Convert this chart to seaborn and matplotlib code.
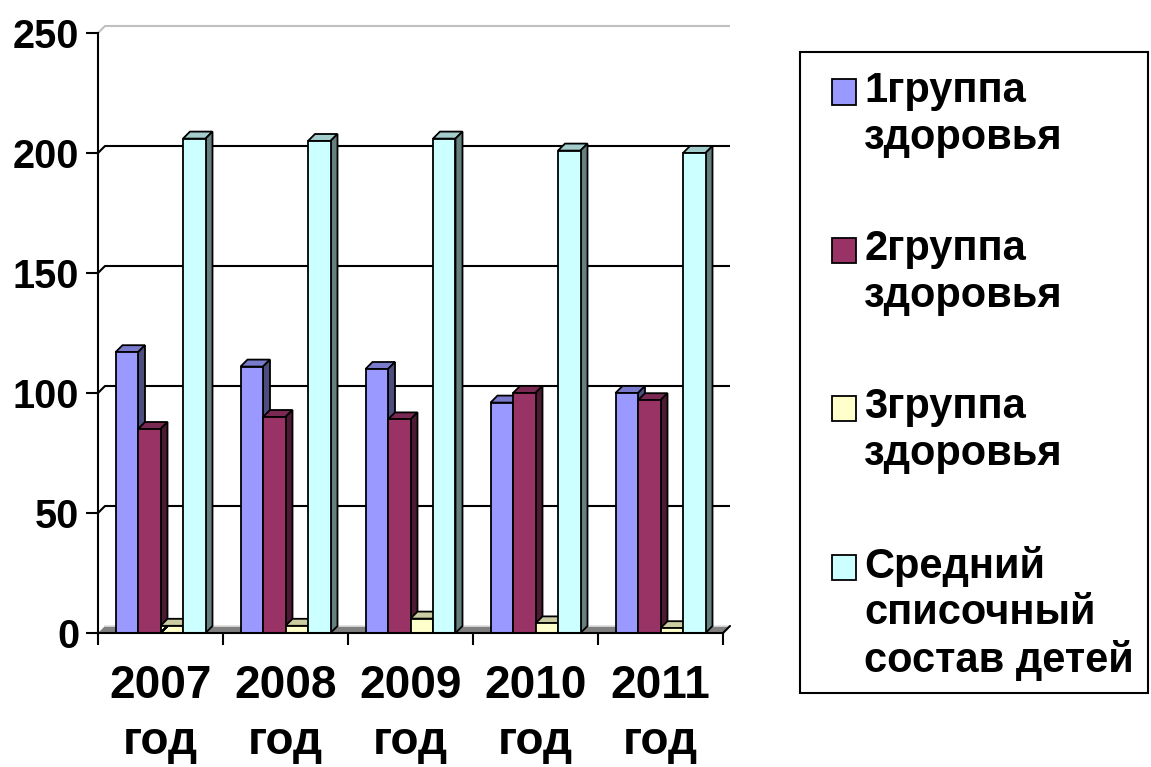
import numpy as np
import pandas as pd
import matplotlib
matplotlib.use("Agg")
import matplotlib.pyplot as plt
from matplotlib.patches import Polygon, Rectangle
import seaborn as sns

# --- donnees ---
years = ["2007\nгод", "2008\nгод", "2009\nгод", "2010\nгод", "2011\nгод"]
series = ["1группа\nздоровья", "2группа\nздоровья", "3группа\nздоровья",
          "Средний\nсписочный\nсостав детей"]
group1 = [117, 111, 110, 96, 100]
group2 = [85, 90, 89, 100, 97]
group3 = [3, 3, 6, 4, 2]
average = [206, 205, 206, 201, 200]
yticks = [0, 50, 100, 150, 200, 250]
front_colors = ["#9999FF", "#993366", "#FFFFCC", "#CCFFFF"]

df = pd.DataFrame({
    "year": years * 4,
    "series": np.repeat(series, len(years)),
    "value": group1 + group2 + group3 + average,
})

sns.set_theme(style="ticks")
plt.rcParams["font.family"] = ["Liberation Sans", "DejaVu Sans"]
plt.rcParams["font.weight"] = "bold"
for k in ["text.color", "axes.labelcolor", "xtick.color", "ytick.color", "axes.edgecolor"]:
    plt.rcParams[k] = "black"

W, H = 1151, 767
fig = plt.figure(figsize=(W / 100, H / 100), dpi=100)
ax = fig.add_axes([98 / W, 134 / H, 625 / W, 600 / H])

sns.barplot(data=df, x="year", y="value", hue="series", palette=front_colors,
            width=0.72, saturation=1, edgecolor="black", linewidth=1.3, ax=ax)

leg_old = ax.get_legend()
handles = leg_old.legend_handles
labels = [t.get_text() for t in leg_old.get_texts()]
leg_old.remove()

# barres dessinees par seaborn, triees de gauche a droite
bars = sorted(ax.patches, key=lambda p: p.get_x())

ax.set_xlim(-0.5, 4.5)
ax.set_ylim(0, 250)

# profondeur 3D (~7 px)
dx = 7 / 125
dy = 7 / 2.4

# mur du fond : lignes de grille + sol
for v in yticks[1:]:
    col = "#C0C0C0" if v == 250 else "black"
    ax.plot([-0.5, -0.5 + dx, 4.5 + dx], [v, v + dy, v + dy], color=col,
            lw=1.5, zorder=0.5, clip_on=False, solid_capstyle="butt")
ax.add_patch(Polygon([(-0.5, 0), (4.5, 0), (4.5 + dx, dy), (-0.5 + dx, dy)],
                     closed=True, fc="#808080", ec="none", zorder=0.6, clip_on=False))
ax.plot([-0.5 + dx, 4.5 + dx], [dy, dy], color="#E0E0E0", lw=1.2, zorder=0.7, clip_on=False)
ax.plot([4.5, 4.5 + dx], [0, dy], color="black", lw=1.5, zorder=0.7, clip_on=False)

# faces laterales et superieures des barres
for i, p in enumerate(bars):
    x0 = p.get_x()
    x1 = x0 + p.get_width()
    h = p.get_height()
    fc = np.array(p.get_facecolor()[:3])
    z = 2 + i * 0.01
    ax.add_patch(Polygon([(x0, h), (x1, h), (x1 + dx, h + dy), (x0 + dx, h + dy)],
                         closed=True, fc=fc * 0.8, ec="black", lw=1.3, zorder=z, clip_on=False))
    ax.add_patch(Polygon([(x1, 0), (x1 + dx, dy), (x1 + dx, h + dy), (x1, h)],
                         closed=True, fc=fc * 0.5, ec="black", lw=1.3, zorder=z, clip_on=False))
    p.set_zorder(z + 0.005)

# axes
ax.grid(False)
ax.set_xlabel("")
ax.set_ylabel("")
for s in ["top", "right"]:
    ax.spines[s].set_visible(False)
for s in ["left", "bottom"]:
    ax.spines[s].set_linewidth(1.5)
    ax.spines[s].set_zorder(3)

ax.set_yticks(yticks)
ax.set_yticklabels([str(v) for v in yticks], fontsize=28.5, fontweight="bold")
ax.tick_params(axis="y", length=8.6, width=1.5, pad=5, left=True)

ax.set_xticks(range(len(years)))
ax.set_xticklabels(years, fontsize=33, fontweight="bold", linespacing=1.36)
ax.set_xticks(np.arange(-0.5, 5, 1), minor=True)
ax.tick_params(axis="x", which="major", length=0, pad=22)
ax.tick_params(axis="x", which="minor", length=8.6, width=1.5, bottom=True)

# legende : cadre + entrees
frame = Rectangle((800 / W, 1 - 693 / H), 348 / W, 641 / H, transform=fig.transFigure,
                  fc="white", ec="black", lw=1.5, zorder=4)
fig.patches.append(frame)

fs = 30
leg = fig.legend(handles, labels, loc="upper left", bbox_to_anchor=(832 / W, 1 - 71 / H),
                 frameon=False, prop={"size": fs, "weight": "bold"},
                 handlelength=0.576, handleheight=0.55, handletextpad=0.2,
                 labelspacing=1.72, borderpad=0, borderaxespad=0)
leg.set_zorder(5)
for t in leg.get_texts():
    t.set_linespacing(1.21)
line_pt = 46 / 100 * 72
for hdl, lab in zip(leg.legend_handles, labels):
    n = lab.count("\n")
    hdl.set_edgecolor("black")
    hdl.set_linewidth(1.3)
    hdl.set_y(hdl.get_y() + n * line_pt / 2)

fig.savefig("out.png", dpi=100)
